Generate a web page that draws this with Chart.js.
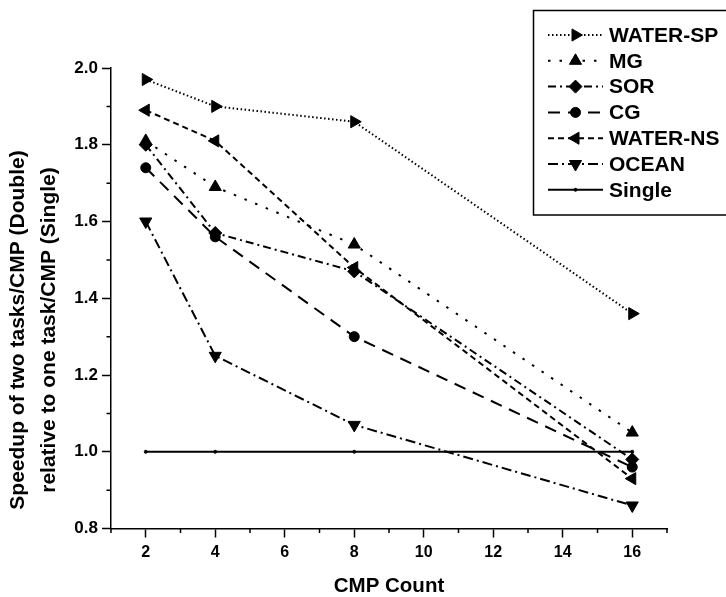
<!DOCTYPE html>
<html>
<head>
<meta charset="utf-8">
<script src="https://cdn.jsdelivr.net/npm/chart.js@4.4.1/dist/chart.umd.min.js"></script>
<style>
  html, body { margin: 0; padding: 0; background: #fff; }
  #wrap { width: 726px; height: 597px; position: relative; }
</style>
</head>
<body>
<div id="wrap"><canvas id="speedup"></canvas></div>
<script>
// CMP counts on the x axis
const cmpCounts = [2, 4, 8, 16];

// speedup per benchmark
const waterSp = [1.97, 1.90, 1.86, 1.36];
const mg      = [1.81, 1.69, 1.54, 1.05];
const sor     = [1.80, 1.57, 1.47, 0.98];
const cg      = [1.74, 1.56, 1.30, 0.96];
const waterNs = [1.89, 1.81, 1.48, 0.93];
const ocean   = [1.60, 1.25, 1.07, 0.86];
const single  = [1.00, 1.00, 1.00, 1.00];

// axis ticks (major get labels, minor are short marks only)
const xTicks = [2, 4, 6, 8, 10, 12, 14, 16];
const xMinor = [1, 3, 5, 7, 9, 11, 13, 15, 17];
const yTicks = [0.8, 1.0, 1.2, 1.4, 1.6, 1.8, 2.0];
const yMinor = [0.9, 1.1, 1.3, 1.5, 1.7, 1.9];

const FONT = '"Liberation Sans", Arial, Helvetica, sans-serif';
Chart.defaults.font.family = FONT;
Chart.defaults.color = '#000';

function series(label, values, dash, style, rotation, radius) {
  return {
    label: label,
    data: cmpCounts.map((x, i) => ({ x: x, y: values[i] })),
    borderColor: '#000',
    backgroundColor: '#000',
    borderWidth: 2,
    borderDash: dash,
    borderCapStyle: 'butt',
    pointStyle: style,
    pointRotation: rotation,
    pointRadius: radius,
    pointBorderWidth: 1,
    pointBackgroundColor: '#000',
    pointBorderColor: '#000',
    tension: 0
  };
}

const datasets = [
  series('WATER-SP', waterSp, [1.5, 2.5], 'triangle', 90, 7),
  series('MG', mg, [2.5, 9], 'triangle', 0, 7),
  series('SOR', sor, [8, 4, 2, 4], 'rectRot', 0, 6.5),
  series('CG', cg, [12, 8], 'circle', 0, 5),
  series('WATER-NS', waterNs, [6, 4], 'triangle', 270, 7),
  series('OCEAN', ocean, [10, 4, 2, 4], 'triangle', 180, 7),
  series('Single', single, [], 'circle', 0, 1.5)
];

// minor ticks, rotated y title and the boxed legend
const extras = {
  id: 'extras',
  afterDraw(chart) {
    const ctx = chart.ctx;
    const xs = chart.scales.x;
    const ys = chart.scales.y;
    const area = chart.chartArea;
    ctx.save();
    ctx.strokeStyle = '#000';
    ctx.fillStyle = '#000';
    ctx.lineWidth = 1.5;

    ctx.beginPath();
    xMinor.forEach(v => {
      const px = xs.getPixelForValue(v);
      ctx.moveTo(px, area.bottom);
      ctx.lineTo(px, area.bottom + 4.5);
    });
    yMinor.forEach(v => {
      const py = ys.getPixelForValue(v);
      ctx.moveTo(area.left, py);
      ctx.lineTo(area.left - 4.5, py);
    });
    ctx.stroke();

    // y axis title, two lines
    ctx.font = 'bold 21px ' + FONT;
    ctx.textAlign = 'center';
    ctx.textBaseline = 'middle';
    ctx.save();
    ctx.translate(18.5, 330);
    ctx.rotate(-Math.PI / 2);
    ctx.fillText('Speedup of two tasks/CMP (Double)', 0, 0);
    ctx.fillText('relative to one task/CMP (Single)', 0, 30.3);
    ctx.restore();

    // legend
    ctx.font = 'bold 21px ' + FONT;
    ctx.lineWidth = 1.5;
    ctx.strokeRect(533.5, 10.5, 230, 204.5);
    ctx.textAlign = 'left';
    chart.data.datasets.forEach((ds, i) => {
      const y = 35 + i * 25.8;
      ctx.lineWidth = ds.borderWidth;
      ctx.setLineDash(ds.borderDash);
      ctx.beginPath();
      ctx.moveTo(548, y);
      ctx.lineTo(603, y);
      ctx.stroke();
      ctx.setLineDash([]);
      ctx.lineWidth = 1;
      Chart.helpers.drawPoint(ctx, {
        pointStyle: ds.pointStyle,
        rotation: ds.pointRotation,
        radius: ds.pointRadius,
        borderWidth: 1
      }, 575.5, y);
      ctx.fillText(ds.label, 609, y + 1);
    });
    ctx.restore();
  }
};

new Chart(document.getElementById('speedup'), {
  type: 'line',
  data: { datasets: datasets },
  options: {
    responsive: true,
    maintainAspectRatio: false,
    animation: false,
    layout: { padding: { top: 68, right: 59, left: 0, bottom: 0 } },
    plugins: { legend: { display: false }, tooltip: { enabled: false } },
    scales: {
      x: {
        type: 'linear',
        min: 1,
        max: 17,
        afterBuildTicks: s => { s.ticks = xTicks.map(v => ({ value: v })); },
        afterFit: s => { s.height = 68.5; },
        ticks: { font: { size: 16, weight: 'bold' }, padding: 5, maxRotation: 0 },
        grid: { drawOnChartArea: false, tickLength: 9, tickWidth: 1.5, tickColor: '#000' },
        border: { display: true, color: '#000', width: 1.5 },
        title: {
          display: true,
          text: 'CMP Count',
          font: { size: 20.5, weight: 'bold', lineHeight: 1 },
          padding: { top: 0, bottom: 0 }
        }
      },
      y: {
        type: 'linear',
        min: 0.8,
        max: 2.0,
        afterBuildTicks: s => { s.ticks = yTicks.map(v => ({ value: v })); },
        afterFit: s => { s.width = 111; },
        ticks: {
          font: { size: 17, weight: 'bold' },
          padding: 4,
          callback: v => v.toFixed(1)
        },
        grid: { drawOnChartArea: false, tickLength: 9, tickWidth: 1.5, tickColor: '#000' },
        border: { display: true, color: '#000', width: 1.5 }
      }
    }
  },
  plugins: [extras]
});
</script>
</body>
</html>
